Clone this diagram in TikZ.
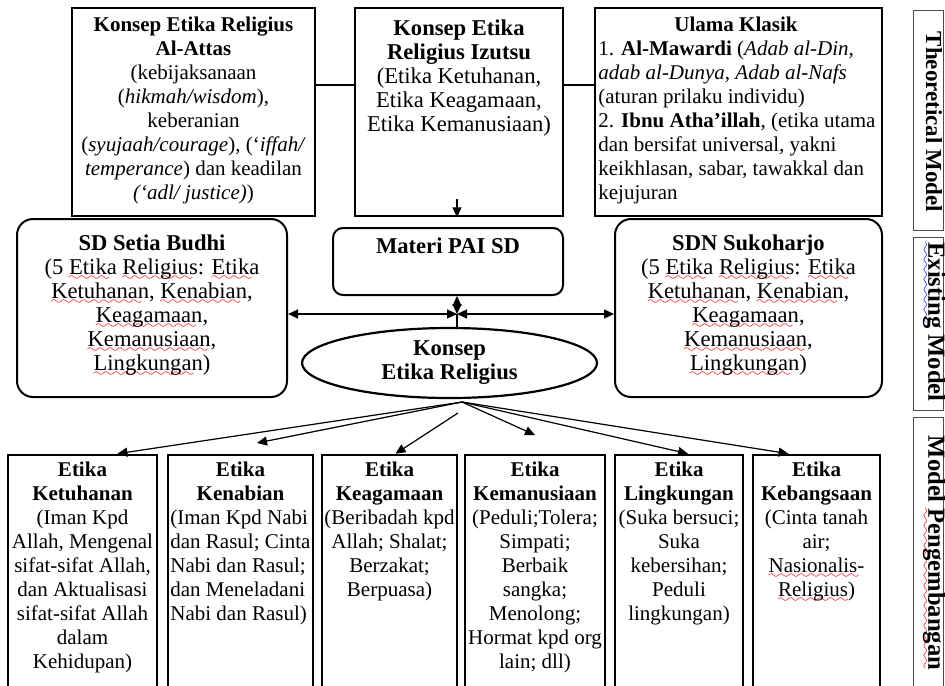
\documentclass[tikz,border=0pt]{standalone}
\usepackage{fontspec}
\setmainfont{Liberation Serif}
\usepackage{tikz}
\usetikzlibrary{arrows.meta, shapes.geometric, fit}

% spell-check waves
\font\wavefont=lasy6
\newcommand{\wvc}[2]{\setbox0\hbox{#2}\leavevmode\rlap{\lower3pt\hbox to\wd0{\color{#1}\leaders\hbox{\wavefont\char58}\hfil}}\box0\relax}
\newcommand{\wv}[1]{\wvc{red}{#1}}
\newcommand{\wvb}[1]{\wvc{blue}{#1}}

\begin{document}
\begin{tikzpicture}[x=0.5pt, y=-0.5pt,
    box/.style={draw, line width=1.3pt, inner sep=0pt},
    rbox/.style={draw, line width=1pt, rounded corners=7pt, inner sep=0pt},
    lbox/.style={draw=black!70, line width=0.5pt, inner sep=0pt},
    small/.style={inner sep=0pt, align=center, font=\fontsize{10.5}{12}\selectfont},
    big/.style={inner sep=0pt, align=center, font=\fontsize{11.3}{12}\selectfont},
    lbl/.style={inner sep=0pt, rotate=-90, font=\fontsize{12.3}{12}\selectfont\bfseries},
    arr/.style={-{Triangle[length=5pt, width=4.5pt]}, line width=0.6pt},
    dblarr/.style={{Triangle[length=5pt, width=4.5pt]}-{Triangle[length=5pt, width=4.5pt]}, line width=0.6pt}]

    \clip (0,0) rectangle (945,685);

    % Theoretical model
    \node[box, fit={(72,8) (315,216)}] (attas) {};
    \node[small, anchor=north] (attas-t) at (193.5,17) {\textbf{Konsep Etika Religius}\\\textbf{Al-Attas}\\(kebijaksanaan\\(\textit{hikmah/wisdom}),\\keberanian\\(\textit{syujaah/courage}), (‘\textit{iffah/}\\\textit{temperance}) dan keadilan\\\textit{(‘adl/ justice)})};

    \node[box, fit={(355,8) (563,216)}] (izutsu) {};
    \node[big, anchor=north] (izutsu-t) at (459,19) {\textbf{Konsep Etika}\\\textbf{Religius Izutsu}\\(Etika Ketuhanan,\\Etika Keagamaan,\\Etika Kemanusiaan)};

    \node[box, fit={(595,8) (882,216)}] (ulama) {};
    \node[small, anchor=north] (ulama-t) at (736,17) {\textbf{Ulama Klasik}};
    \node[small, anchor=north west, align=left] (ulama-b) at (598,41) {1. \textbf{Al-Mawardi} (\textit{Adab al-Din,}\\\textit{adab al-Dunya}, \textit{Adab al-Nafs}\\(aturan prilaku individu)\\2. \textbf{Ibnu Atha’illah}, (etika utama\\dan bersifat universal, yakni\\keikhlasan, sabar, tawakkal dan\\kejujuran};

    % Existing model
    \node[rbox, rounded corners=8pt, fit={(17,219) (287,397)}] (budhi) {};
    \node[big, anchor=north] (budhi-t) at (152,234) {\textbf{SD Setia Budhi}\\(5 \wv{Etika} \wv{Religius}: \wv{Etika}\\\wv{Ketuhanan}, \wv{Kenabian},\\\wv{Keagamaan},\\\wv{Kemanusiaan},\\\wv{Lingkungan})};

    \node[rbox, rounded corners=8pt, fit={(615,219) (882,397)}] (sukoharjo) {};
    \node[big, anchor=north] (sukoharjo-t) at (748.5,234) {\textbf{SDN Sukoharjo}\\(5 \wv{Etika} \wv{Religius}: \wv{Etika}\\\wv{Ketuhanan}, \wv{Kenabian},\\\wv{Keagamaan},\\\wv{Kemanusiaan},\\\wv{Lingkungan})};

    \node[rbox, rounded corners=5pt, fit={(333,228) (563,295)}] (materi) {};
    \node[big, anchor=north] (materi-t) at (448,237) {\textbf{Materi PAI SD}};

    \node[ellipse, draw, line width=1.1pt, minimum width=147.5pt, minimum height=35pt, inner sep=0pt,
        font=\fontsize{11.3}{12}\selectfont\bfseries, align=center] (konsep) at (449.5,363) {Konsep\\Etika Religius};

    % Model pengembangan
    \node[box, fit={(8,455) (157,700)}] (ketuhanan) {};
    \node[small, anchor=north] (ketuhanan-t) at (82.5,462) {\textbf{Etika}\\\textbf{Ketuhanan}\\(Iman Kpd\\Allah, Mengenal\\sifat-sifat Allah,\\dan Aktualisasi\\sifat-sifat Allah\\dalam\\Kehidupan)};

    \node[box, fit={(168,455) (313,700)}] (kenabian) {};
    \node[small, anchor=north] (kenabian-t) at (240.5,462) {\textbf{Etika}\\\textbf{Kenabian}};
    \node[small, anchor=north west, align=left] (kenabian-b) at (170,510) {(Iman Kpd Nabi\\dan Rasul; Cinta\\Nabi dan Rasul;\\dan Meneladani\\Nabi dan Rasul)};

    \node[box, fit={(322,455) (457,700)}] (keagamaan) {};
    \node[small, anchor=north] (keagamaan-t) at (389.5,462) {\textbf{Etika}\\\textbf{Keagamaan}\\(Beribadah kpd\\Allah; Shalat;\\Berzakat;\\Berpuasa)};

    \node[box, fit={(465,455) (605,700)}] (kemanusiaan) {};
    \node[small, anchor=north] (kemanusiaan-t) at (535,462) {\textbf{Etika}\\\textbf{Kemanusiaan}\\(Peduli;Tolera;\\Simpati;\\Berbaik\\sangka;\\Menolong;\\Hormat kpd org\\lain; dll)};

    \node[box, fit={(615,455) (743,700)}] (lingkungan) {};
    \node[small, anchor=north] (lingkungan-t) at (679,462) {\textbf{Etika}\\\textbf{Lingkungan}\\(Suka bersuci;\\Suka\\kebersihan;\\Peduli\\lingkungan)};

    \node[box, fit={(753,455) (880,700)}] (kebangsaan) {};
    \node[small, anchor=north] (kebangsaan-t) at (816.5,462) {\textbf{Etika}\\\textbf{Kebangsaan}\\(Cinta tanah\\air;\\\wv{Nasionalis-}\\\wv{Religius})};

    % Side labels
    \node[lbox, fit={(913,10) (943,230)}] (theory) {};
    \node[lbl, font=\fontsize{11.5}{12}\selectfont\bfseries] (theory-t) at (934,122) {Theoretical Model};
    \node[lbox, fit={(913,237) (943,410)}] (existing) {};
    \node[lbl] (existing-t) at (934,322) {\wvb{Existing} Model};
    \node[lbox, fit={(913,417) (943,700)}] (pengembangan) {};
    \node[lbl] (pengembangan-t) at (934,553) {Model \wv{Pengembangan}};

    % Edges
    \draw[line width=0.6pt] ([yshift=13.5pt]attas.east) -- ([yshift=13.5pt]izutsu.west);
    \draw[line width=0.6pt] ([yshift=13.5pt]izutsu.east) -- ([yshift=13.5pt]ulama.west);

    \coordinate (izt) at (457,199);
    \draw[arr] (izt) -- (izt |- izutsu.south);

    \coordinate (hub) at (457,314);
    \draw[dblarr] (budhi.east |- hub) -- (hub);
    \draw[dblarr] (hub) -- (sukoharjo.west |- hub);
    \draw[dblarr] (materi.south -| hub) -- (hub);
    \draw[line width=0.6pt] (hub) -- (konsep.north -| hub);

    % Fan to the six ethics
    \coordinate (fan) at (462,402);
    \coordinate (nabi-end) at (257,443);
    \coordinate (agama-start) at (458,413);
    \coordinate (manusia-end) at (535,435);
    \draw[arr] (fan) -- ([xshift=17.5pt]ketuhanan.north);
    \draw[arr] (fan) -- (nabi-end);
    \draw[arr] (agama-start) -- ([xshift=3pt]keagamaan.north);
    \draw[arr] (fan) -- (manusia-end);
    \draw[arr] (fan) -- ([xshift=4.5pt]lingkungan.north);
    \draw[arr] (fan) -- ([xshift=-14pt]kebangsaan.north);
\end{tikzpicture}
\end{document}
